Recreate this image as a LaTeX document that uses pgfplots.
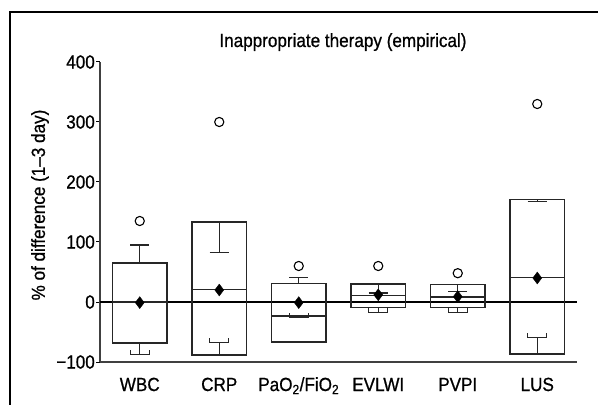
\documentclass[border=0pt]{standalone}
\usepackage{fontspec}
\setmainfont{Liberation Sans}[FakeStretch=0.9, FakeBold=0.8]
\usepackage{pgfplots}
\pgfplotsset{compat=1.18}
\begin{document}
\fontsize{19bp}{22bp}\selectfont
\begin{tikzpicture}
\useasboundingbox (-100bp,-43bp) rectangle (498bp,362bp);
\draw[line width=1.3bp] (-90bp,-43bp) -- (-90bp,350bp) -- (498bp,350bp);
\begin{axis}[
  at={(0,0)}, anchor=south west,
  scale only axis, width=477bp, height=300bp,
  xmin=-0.5, xmax=5.5, ymin=-100, ymax=400,
  axis x line*=bottom, axis y line*=left,
  axis line style={line width=1.6bp, black!75, -},
  xtick={0,1,2,3,4,5},
  xticklabels={WBC, CRP, PaO\textsubscript{2}/FiO\textsubscript{2}, EVLWI, PVPI, LUS},
  x tick style={draw=none},
  xticklabel style={anchor=base, yshift=-25bp},
  ytick={-100,0,100,200,300,400},
  yticklabels={−100,0,100,200,300,400},
  tick align=outside, major tick length=4bp,
  y tick style={line width=1bp, black},
  yticklabel style={anchor=east, inner sep=1bp},
  unbounded coords=jump, clip=false,
  font=\fontsize{19bp}{22bp}\selectfont,
]
% zero line
\addplot[black, line width=1.1bp] coordinates {(-0.5,0) (5.5,0)};
% boxes with medians
\addplot[black!85, line width=1.5bp, line join=miter] coordinates {
  (-0.34,-68) (0.34,-68) (0.34,65) (-0.34,65) (-0.34,-68) (0.34,-68)
  (0.34,nan) (-0.34,0) (0.34,0)};
\addplot[black!85, line width=1.5bp, line join=miter] coordinates {
  (0.66,-88) (1.34,-88) (1.34,133) (0.66,133) (0.66,-88) (1.34,-88)
  (1.34,nan) (0.66,21) (1.34,21)};
\addplot[black!85, line width=1.5bp, line join=miter] coordinates {
  (1.66,-67) (2.34,-67) (2.34,31) (1.66,31) (1.66,-67) (2.34,-67)
  (2.34,nan) (1.66,-23) (2.34,-23)};
\addplot[black!85, line width=1.5bp, line join=miter] coordinates {
  (2.66,-9) (3.34,-9) (3.34,30) (2.66,30) (2.66,-9) (3.34,-9)
  (3.34,nan) (2.66,11) (3.34,11)};
\addplot[black!85, line width=1.5bp, line join=miter] coordinates {
  (3.66,-9) (4.34,-9) (4.34,29) (3.66,29) (3.66,-9) (4.34,-9)
  (4.34,nan) (3.66,8) (4.34,8)};
\addplot[black!85, line width=1.5bp, line join=miter] coordinates {
  (4.66,-87) (5.34,-87) (5.34,171) (4.66,171) (4.66,-87) (5.34,-87)
  (5.34,nan) (4.66,41) (5.34,41)};
% whiskers
\addplot[black!85, line width=1.3bp] coordinates {
  (0,65) (0,95) (0,nan) (-0.12,95) (0.12,95) (0,nan)
  (0,-68) (0,-88) (0,nan) (-0.12,-80) (-0.12,-88) (0.12,-88) (0.12,-80)};
\addplot[black!85, line width=1.3bp] coordinates {
  (1,133) (1,82) (1,nan) (0.88,82) (1.12,82) (1,nan)
  (1,-88) (1,-68) (1,nan) (0.88,-60) (0.88,-68) (1.12,-68) (1.12,-60)};
\addplot[black!85, line width=1.3bp] coordinates {
  (2,31) (2,41) (2,nan) (1.88,41) (2.12,41) (2,nan)
  (2,-23) (2,-26) (2,nan) (1.88,-19) (1.88,-26) (2.12,-26) (2.12,-19)};
\addplot[black!85, line width=1.3bp] coordinates {
  (3,30) (3,15) (3,nan) (2.88,15) (3.12,15) (3,nan)
  (3,-9) (3,-18) (3,nan) (2.88,-9) (2.88,-18) (3.12,-18) (3.12,-9)};
\addplot[black!85, line width=1.3bp] coordinates {
  (4,29) (4,18) (4,nan) (3.88,18) (4.12,18) (4,nan)
  (4,-9) (4,-18) (4,nan) (3.88,-9) (3.88,-18) (4.12,-18) (4.12,-9)};
\addplot[black!85, line width=1.3bp] coordinates {
  (5,171) (5,167) (5,nan) (4.88,167) (5.12,167) (5,nan)
  (5,-87) (5,-59) (5,nan) (4.88,-52) (4.88,-59) (5.12,-59) (5.12,-52)};
% means
\addplot[only marks, mark=diamond*, mark size=6bp,
  mark options={fill=black, draw=black, line width=0.3bp}] coordinates {
  (0,-1) (1,20) (2,-1) (3,12) (4,9) (5,40)};
% outliers
\addplot[only marks, mark=o, mark size=4.6bp,
  mark options={draw=black, line width=1.1bp}] coordinates {
  (0,135) (1,300) (2,60) (3,60) (4,48) (5,330)};
\end{axis}
\node[anchor=base] at (243bp,315bp) {Inappropriate therapy (empirical)};
\node[rotate=90] at (-60bp,157bp) {\% of difference (1–3 day)};
\end{tikzpicture}
\end{document}
